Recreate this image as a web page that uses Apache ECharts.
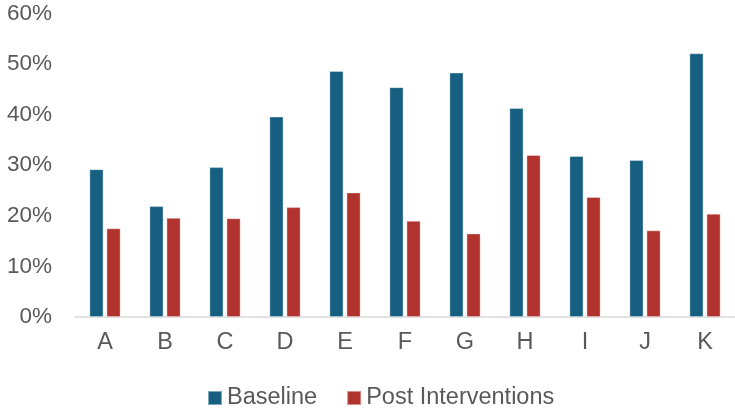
<!DOCTYPE html>
<html>
<head>
<meta charset="utf-8">
<script src="https://cdn.jsdelivr.net/npm/echarts@6/dist/echarts.min.js"></script>
<style>
html,body{margin:0;padding:0;background:#fff;}
#chart{width:735px;height:409px;}
</style>
</head>
<body>
<div id="chart"></div>
<script>
const categories = ['A','B','C','D','E','F','G','H','I','J','K'];
const baseline = [29.2, 21.9, 29.6, 39.6, 48.6, 45.4, 48.3, 41.3, 31.8, 31.0, 52.1];
const postInterventions = [17.5, 19.6, 19.5, 21.7, 24.6, 19.0, 16.5, 32.0, 23.7, 17.1, 20.4];
const yTicks = [0, 10, 20, 30, 40, 50, 60];

const chart = echarts.init(document.getElementById('chart'));
const font = 'Liberation Sans, Arial, sans-serif';
chart.setOption({
  animation: false,
  textStyle: { fontFamily: font },
  grid: { left: 75, right: 0, top: 13.4, bottom: 92, containLabel: false },
  legend: {
    left: 202, top: 381,
    itemWidth: 14, itemHeight: 14, itemGap: 29,
    icon: 'rect',
    textStyle: { fontSize: 23.5, lineHeight: 24, color: '#595959', fontFamily: font, padding: [0,0,0,0] },
    data: ['Baseline', 'Post Interventions']
  },
  xAxis: {
    type: 'category',
    data: categories,
    axisLine: { lineStyle: { color: '#d9d9d9', width: 1.5 } },
    axisTick: { show: false },
    axisLabel: { fontSize: 23.5, color: '#595959', margin: 14, fontFamily: font }
  },
  yAxis: {
    type: 'value',
    min: yTicks[0], max: yTicks[yTicks.length - 1], interval: 10,
    splitLine: { show: false },
    axisLine: { show: false },
    axisTick: { show: false },
    axisLabel: { fontSize: 22.5, color: '#595959', margin: 23, fontFamily: font, formatter: v => v + '%' }
  },
  series: [
    {
      name: 'Baseline', type: 'bar', data: baseline,
      barWidth: 14, barGap: '22%',
      itemStyle: { color: '#175f81', borderColor: 'rgba(255,255,255,0.45)', borderWidth: 0.8 }
    },
    {
      name: 'Post Interventions', type: 'bar', data: postInterventions,
      barWidth: 14,
      itemStyle: { color: '#b0332e', borderColor: 'rgba(255,255,255,0.45)', borderWidth: 0.8 }
    }
  ]
});
</script>
</body>
</html>
